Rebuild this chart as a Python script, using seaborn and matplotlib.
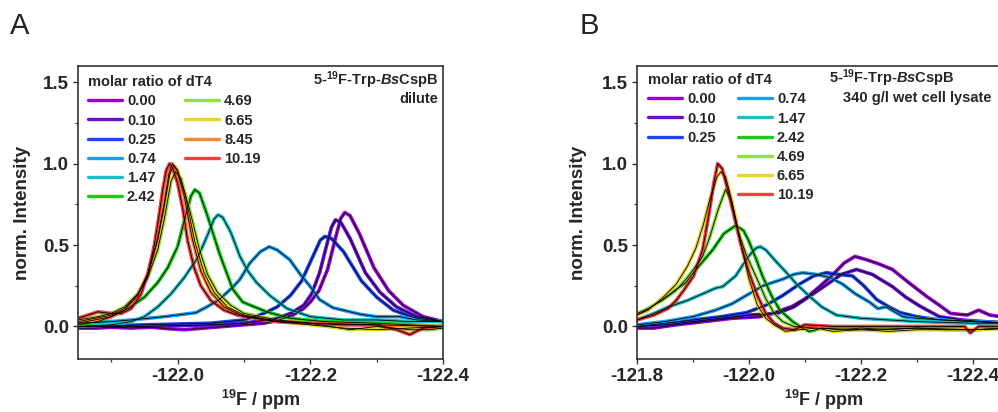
import matplotlib
matplotlib.use('Agg')
import matplotlib.pyplot as plt
from matplotlib.lines import Line2D
from matplotlib.ticker import MultipleLocator, FormatStrFormatter
import pandas as pd
import seaborn as sns

# ---------------- data ----------------
ratios_A = ['0.00', '0.10', '0.25', '0.74', '1.47', '2.42', '4.69', '6.65', '8.45', '10.19']
ratios_B = ['0.00', '0.10', '0.25', '0.74', '1.47', '2.42', '4.69', '6.65', '10.19']
ratio_colors = ['#9B00D9', '#6A10D6', '#1E44F5', '#1A9FF0', '#1CBFC8',
                '#16CC16', '#92E03A', '#E6D42A', '#F28A2E', '#F2403A']

# Panel A: dilute  (ppm, normalised intensity)
A_000 = [(-121.850, -0.01), (-121.880, -0.01), (-121.900, -0.005), (-121.930, -0.01), (-121.960, -0.005),
         (-121.990, -0.015), (-122.010, -0.02), (-122.040, -0.01), (-122.070, 0.0), (-122.100, 0.01),
         (-122.130, 0.02), (-122.150, 0.035), (-122.174, 0.07), (-122.190, 0.11), (-122.200, 0.15),
         (-122.213, 0.22), (-122.226, 0.35), (-122.239, 0.56), (-122.246, 0.665), (-122.252, 0.70),
         (-122.260, 0.68), (-122.274, 0.57), (-122.296, 0.36), (-122.318, 0.22), (-122.340, 0.13),
         (-122.370, 0.06), (-122.400, 0.03)]
A_010 = [(-121.850, 0.0), (-121.950, 0.0), (-122.000, 0.005), (-122.050, 0.01), (-122.100, 0.02),
         (-122.150, 0.05), (-122.170, 0.08), (-122.190, 0.13), (-122.202, 0.20), (-122.214, 0.33),
         (-122.226, 0.52), (-122.232, 0.61), (-122.238, 0.655), (-122.246, 0.64), (-122.260, 0.54),
         (-122.283, 0.33), (-122.305, 0.21), (-122.330, 0.12), (-122.360, 0.06), (-122.400, 0.03)]
A_025 = [(-121.850, 0.0), (-121.950, 0.01), (-122.050, 0.02), (-122.100, 0.04), (-122.130, 0.08),
         (-122.150, 0.12), (-122.170, 0.19), (-122.187, 0.28), (-122.205, 0.44), (-122.215, 0.53),
         (-122.222, 0.553), (-122.232, 0.54), (-122.250, 0.46), (-122.277, 0.28), (-122.300, 0.18),
         (-122.325, 0.10), (-122.360, 0.05), (-122.400, 0.03)]
A_074 = [(-121.850, 0.02), (-121.900, 0.03), (-121.930, 0.04), (-121.980, 0.06), (-122.028, 0.085),
         (-122.044, 0.12), (-122.063, 0.165), (-122.084, 0.245), (-122.094, 0.29), (-122.109, 0.39),
         (-122.125, 0.46), (-122.138, 0.49), (-122.150, 0.47), (-122.169, 0.41), (-122.185, 0.32),
         (-122.200, 0.245), (-122.214, 0.165), (-122.234, 0.115), (-122.275, 0.075), (-122.300, 0.06),
         (-122.335, 0.06), (-122.360, 0.04), (-122.400, 0.03)]
A_147 = [(-121.850, 0.0), (-121.900, 0.01), (-121.930, 0.03), (-121.950, 0.06), (-121.970, 0.12),
         (-121.990, 0.20), (-122.010, 0.30), (-122.030, 0.42), (-122.045, 0.56), (-122.055, 0.66),
         (-122.061, 0.686), (-122.068, 0.67), (-122.080, 0.58), (-122.094, 0.43), (-122.106, 0.34),
         (-122.119, 0.27), (-122.139, 0.19), (-122.165, 0.11), (-122.200, 0.06), (-122.250, 0.04),
         (-122.300, 0.04), (-122.350, 0.03), (-122.400, 0.03)]
A_242 = [(-121.850, 0.01), (-121.880, 0.03), (-121.900, 0.06), (-121.925, 0.11), (-121.950, 0.18),
         (-121.970, 0.27), (-121.985, 0.36), (-122.000, 0.49), (-122.012, 0.68), (-122.020, 0.80),
         (-122.026, 0.84), (-122.033, 0.82), (-122.045, 0.68), (-122.063, 0.45), (-122.083, 0.23),
         (-122.098, 0.15), (-122.134, 0.09), (-122.170, 0.05), (-122.220, 0.03), (-122.300, 0.02),
         (-122.350, 0.01), (-122.400, 0.0)]
A_469 = [(-121.850, 0.04), (-121.880, 0.06), (-121.900, 0.08), (-121.920, 0.12), (-121.940, 0.20),
         (-121.955, 0.30), (-121.970, 0.47), (-121.980, 0.66), (-121.990, 0.89), (-121.997, 0.95),
         (-122.005, 0.91), (-122.018, 0.72), (-122.033, 0.47), (-122.045, 0.32), (-122.060, 0.21),
         (-122.080, 0.13), (-122.100, 0.08), (-122.150, 0.04), (-122.200, 0.02), (-122.260, -0.02),
         (-122.300, 0.0), (-122.350, -0.02), (-122.380, -0.02), (-122.400, -0.01)]
A_665 = [(-121.850, 0.03), (-121.900, 0.07), (-121.920, 0.11), (-121.940, 0.20), (-121.955, 0.32),
         (-121.970, 0.53), (-121.980, 0.74), (-121.988, 0.93), (-121.994, 0.99), (-122.000, 0.96),
         (-122.012, 0.80), (-122.026, 0.52), (-122.040, 0.33), (-122.055, 0.21), (-122.075, 0.12),
         (-122.100, 0.07), (-122.150, 0.03), (-122.200, 0.01), (-122.250, -0.01), (-122.300, -0.02),
         (-122.400, 0.0)]
A_845 = [(-121.850, 0.02), (-121.900, 0.06), (-121.920, 0.10), (-121.940, 0.19), (-121.955, 0.32),
         (-121.969, 0.52), (-121.980, 0.76), (-121.987, 0.94), (-121.992, 1.00), (-121.999, 0.96),
         (-122.010, 0.80), (-122.022, 0.54), (-122.035, 0.34), (-122.050, 0.21), (-122.070, 0.12),
         (-122.100, 0.06), (-122.150, 0.03), (-122.200, 0.02), (-122.300, 0.01), (-122.400, 0.0)]
A_1019 = [(-121.850, 0.05), (-121.865, 0.07), (-121.880, 0.09), (-121.900, 0.08), (-121.915, 0.08),
          (-121.930, 0.11), (-121.945, 0.20), (-121.955, 0.32), (-121.965, 0.50), (-121.972, 0.68),
          (-121.978, 0.85), (-121.983, 0.96), (-121.988, 1.00), (-121.993, 0.97), (-122.000, 0.88),
          (-122.008, 0.72), (-122.015, 0.53), (-122.025, 0.36), (-122.035, 0.25), (-122.050, 0.16),
          (-122.070, 0.10), (-122.090, 0.07), (-122.120, 0.05), (-122.150, 0.03), (-122.200, 0.02),
          (-122.250, 0.01), (-122.300, 0.01), (-122.330, -0.02), (-122.350, -0.05), (-122.370, -0.01),
          (-122.400, 0.0)]

# Panel B: 340 g/l wet cell lysate
B_000 = [(-121.800, -0.01), (-121.830, -0.01), (-121.870, 0.01), (-121.920, 0.03), (-121.970, 0.05),
         (-122.020, 0.06), (-122.050, 0.09), (-122.078, 0.125), (-122.100, 0.17), (-122.126, 0.245),
         (-122.150, 0.32), (-122.170, 0.39), (-122.189, 0.43), (-122.210, 0.41), (-122.235, 0.38),
         (-122.256, 0.35), (-122.285, 0.27), (-122.317, 0.185), (-122.340, 0.13), (-122.360, 0.08),
         (-122.390, 0.07), (-122.410, 0.10), (-122.430, 0.07), (-122.450, 0.06), (-122.470, 0.06)]
B_010 = [(-121.800, 0.0), (-121.850, 0.01), (-121.900, 0.03), (-121.950, 0.05), (-122.000, 0.07),
         (-122.050, 0.08), (-122.080, 0.12), (-122.108, 0.185), (-122.140, 0.26), (-122.165, 0.32),
         (-122.192, 0.35), (-122.220, 0.32), (-122.256, 0.245), (-122.280, 0.18), (-122.305, 0.125),
         (-122.340, 0.06), (-122.380, 0.04), (-122.420, 0.03), (-122.470, 0.02)]
B_025 = [(-121.800, 0.0), (-121.850, 0.02), (-121.900, 0.04), (-121.950, 0.06), (-121.995, 0.085),
         (-122.030, 0.13), (-122.060, 0.19), (-122.090, 0.26), (-122.115, 0.31), (-122.138, 0.33),
         (-122.160, 0.32), (-122.185, 0.31), (-122.205, 0.25), (-122.228, 0.165), (-122.250, 0.12),
         (-122.270, 0.085), (-122.300, 0.06), (-122.340, 0.04), (-122.400, 0.03), (-122.470, 0.02)]
B_074 = [(-121.800, 0.01), (-121.850, 0.03), (-121.900, 0.06), (-121.940, 0.10), (-121.970, 0.14),
         (-122.000, 0.20), (-122.025, 0.25), (-122.042, 0.27), (-122.060, 0.29), (-122.080, 0.32),
         (-122.096, 0.33), (-122.120, 0.32), (-122.145, 0.30), (-122.167, 0.26), (-122.190, 0.20),
         (-122.215, 0.15), (-122.230, 0.11), (-122.245, 0.12), (-122.260, 0.09), (-122.275, 0.06),
         (-122.300, 0.05), (-122.350, 0.04), (-122.400, 0.03), (-122.470, 0.02)]
B_147 = [(-121.800, 0.04), (-121.830, 0.08), (-121.856, 0.12), (-121.890, 0.16), (-121.917, 0.20),
         (-121.940, 0.235), (-121.953, 0.245), (-121.976, 0.31), (-121.999, 0.43), (-122.012, 0.48),
         (-122.020, 0.49), (-122.030, 0.47), (-122.048, 0.40), (-122.067, 0.33), (-122.085, 0.26),
         (-122.108, 0.185), (-122.130, 0.12), (-122.156, 0.07), (-122.200, 0.05), (-122.250, 0.04),
         (-122.300, 0.03), (-122.400, 0.02), (-122.470, 0.02)]
B_242 = [(-121.800, 0.07), (-121.816, 0.10), (-121.845, 0.165), (-121.887, 0.27), (-121.910, 0.37),
         (-121.935, 0.47), (-121.955, 0.57), (-121.976, 0.62), (-121.990, 0.59), (-121.999, 0.53),
         (-122.012, 0.42), (-122.024, 0.31), (-122.040, 0.19), (-122.055, 0.10), (-122.078, 0.03),
         (-122.095, -0.01), (-122.108, -0.03), (-122.130, -0.01), (-122.160, -0.02), (-122.200, -0.01),
         (-122.250, -0.02), (-122.300, -0.01), (-122.350, -0.02), (-122.400, -0.02), (-122.470, -0.01)]
B_469 = [(-121.800, 0.08), (-121.820, 0.11), (-121.845, 0.16), (-121.869, 0.22), (-121.890, 0.30),
         (-121.905, 0.37), (-121.917, 0.43), (-121.930, 0.55), (-121.945, 0.72), (-121.958, 0.84),
         (-121.968, 0.78), (-121.981, 0.58), (-121.995, 0.44), (-122.012, 0.31), (-122.030, 0.17),
         (-122.045, 0.08), (-122.060, 0.03), (-122.080, 0.0), (-122.120, -0.01), (-122.200, -0.02),
         (-122.300, -0.01), (-122.400, -0.02), (-122.470, -0.01)]
B_665 = [(-121.800, 0.07), (-121.820, 0.10), (-121.850, 0.19), (-121.870, 0.26), (-121.890, 0.37),
         (-121.905, 0.48), (-121.918, 0.62), (-121.930, 0.78), (-121.943, 0.92), (-121.950, 0.95),
         (-121.958, 0.92), (-121.970, 0.76), (-121.986, 0.50), (-122.000, 0.29), (-122.015, 0.13),
         (-122.030, 0.05), (-122.045, 0.01), (-122.065, -0.03), (-122.090, -0.02), (-122.120, -0.01),
         (-122.150, -0.03), (-122.200, -0.02), (-122.250, -0.03), (-122.300, -0.02), (-122.350, -0.02),
         (-122.400, -0.02), (-122.470, -0.01)]
B_1019 = [(-121.800, 0.04), (-121.830, 0.07), (-121.855, 0.11), (-121.870, 0.16), (-121.885, 0.23),
          (-121.901, 0.31), (-121.917, 0.47), (-121.928, 0.68), (-121.937, 0.88), (-121.944, 1.00),
          (-121.952, 0.97), (-121.965, 0.80), (-121.985, 0.51), (-122.000, 0.33), (-122.015, 0.19),
          (-122.030, 0.08), (-122.045, 0.02), (-122.060, -0.01), (-122.080, -0.02), (-122.100, 0.01),
          (-122.150, 0.0), (-122.200, 0.0), (-122.300, 0.0), (-122.385, 0.0), (-122.395, -0.04),
          (-122.410, 0.0), (-122.470, 0.0)]

spectra_A = [A_000, A_010, A_025, A_074, A_147, A_242, A_469, A_665, A_845, A_1019]
spectra_B = [B_000, B_010, B_025, B_074, B_147, B_242, B_469, B_665, B_1019]

xticks_A = [-122.0, -122.2, -122.4]
xticks_B = [-121.8, -122.0, -122.2, -122.4]
yticks = [0.0, 0.5, 1.0, 1.5]

# ---------------- style ----------------
sns.set_style('ticks')
plt.rcParams['font.family'] = ['Liberation Sans', 'DejaVu Sans']
plt.rcParams['font.weight'] = 'bold'
plt.rcParams['axes.unicode_minus'] = False
plt.rcParams['mathtext.fontset'] = 'custom'
plt.rcParams['mathtext.rm'] = 'Liberation Sans:bold'
plt.rcParams['mathtext.it'] = 'Liberation Sans:italic:bold'
plt.rcParams['mathtext.bf'] = 'Liberation Sans:bold'

color_of = dict(zip(ratios_A, ratio_colors))


def make_df(ratios, spectra):
    rows = []
    for r, s in zip(ratios, spectra):
        for i, (x, y) in enumerate(s):
            rows.append({'ratio': r, 'ppm': x, 'intensity': y, 'i': i})
    return pd.DataFrame(rows)


fig = plt.figure(figsize=(9.98, 4.12), dpi=100)
axA = fig.add_axes([0.0782, 0.1286, 0.3657, 0.7112])
axB = fig.add_axes([0.6383, 0.1286, 0.3737, 0.7112])


def draw(ax, ratios, spectra, xlim, xticks, legend_cols, leg_anchor, colspace):
    df = make_df(ratios, spectra)
    sns.lineplot(data=df, x='ppm', y='intensity', hue='ratio', hue_order=ratios,
                 palette={r: color_of[r] for r in ratios}, estimator=None, sort=False,
                 lw=2.6, legend=False, ax=ax)
    sns.lineplot(data=df, x='ppm', y='intensity', units='ratio', color='black',
                 estimator=None, sort=False, lw=0.6, legend=False, ax=ax)
    ax.set_xlim(*xlim)
    ax.set_ylim(-0.2, 1.6)
    ax.set_xticks(xticks)
    ax.xaxis.set_major_formatter(FormatStrFormatter('%.1f'))
    ax.xaxis.set_minor_locator(MultipleLocator(0.1))
    ax.set_yticks(yticks)
    ax.yaxis.set_major_formatter(FormatStrFormatter('%.1f'))
    ax.yaxis.set_minor_locator(MultipleLocator(0.25))
    ax.tick_params(which='major', direction='out', length=3.5, width=1.0,
                   labelsize=13.5, pad=3, color='#333333')
    ax.tick_params(which='minor', direction='out', length=2.2, width=0.9, color='#333333')
    for lab in ax.get_xticklabels() + ax.get_yticklabels():
        lab.set_fontweight('bold')
    for sp in ax.spines.values():
        sp.set_visible(True)
        sp.set_color('#333333')
        sp.set_linewidth(1.2)
    ax.set_xlabel(r'$^{\mathrm{19}}$F / ppm', fontsize=13, fontweight='bold')
    ax.set_ylabel('norm. Intensity', fontsize=13.5, fontweight='bold')
    ax.xaxis.set_label_coords(0.5, -0.097)

    handles, labels = [], []
    for r in legend_cols:
        if r is None:
            handles.append(Line2D([], [], color='none'))
            labels.append('')
        else:
            handles.append(Line2D([], [], color=color_of[r], lw=2.4))
            labels.append(r)
    ax.legend(handles, labels, ncol=2, loc='upper left', bbox_to_anchor=leg_anchor,
              frameon=False, prop={'weight': 'bold', 'size': 10.5},
              title='molar ratio of dT4',
              title_fontproperties={'weight': 'bold', 'size': 10.5},
              alignment='left', handlelength=2.33, handletextpad=0.35,
              columnspacing=colspace, labelspacing=0.35, borderpad=0, borderaxespad=0)


legA = ['0.00', '0.10', '0.25', '0.74', '1.47', '2.42', '4.69', '6.65', '8.45', '10.19', None, None]
legB = ['0.00', '0.10', '0.25', None, None, None, '0.74', '1.47', '2.42', '4.69', '6.65', '10.19']

draw(axA, ratios_A, spectra_A, (-121.85, -122.40), xticks_A, legA, (0.027, 0.968), 2.0)
draw(axB, ratios_B, spectra_B, (-121.80, -122.466), xticks_B, legB, (0.0295, 0.975), 1.5)
axA.yaxis.set_label_coords(-0.129, 0.5)
axB.yaxis.set_label_coords(-0.135, 0.5)

axA.text(0.986, 0.952, r'5-$^{\mathrm{19}}$F-Trp-$\mathit{Bs}$CspB', transform=axA.transAxes,
         ha='right', va='center', fontsize=10.5, fontweight='bold')
axA.text(0.986, 0.887, 'dilute', transform=axA.transAxes,
         ha='right', va='center', fontsize=10.5, fontweight='bold')
axB.text(0.515, 0.959, r'5-$^{\mathrm{19}}$F-Trp-$\mathit{Bs}$CspB', transform=axB.transAxes,
         ha='left', va='center', fontsize=10.5, fontweight='bold')
axB.text(0.552, 0.891, '340 g/l wet cell lysate', transform=axB.transAxes,
         ha='left', va='center', fontsize=10.5, fontweight='bold')

fig.text(0.010, 0.937, 'A', fontsize=21, fontweight='normal', color='#222222', va='center', ha='left')
fig.text(0.581, 0.937, 'B', fontsize=21, fontweight='normal', color='#222222', va='center', ha='left')

fig.savefig('out.png', dpi=100)
